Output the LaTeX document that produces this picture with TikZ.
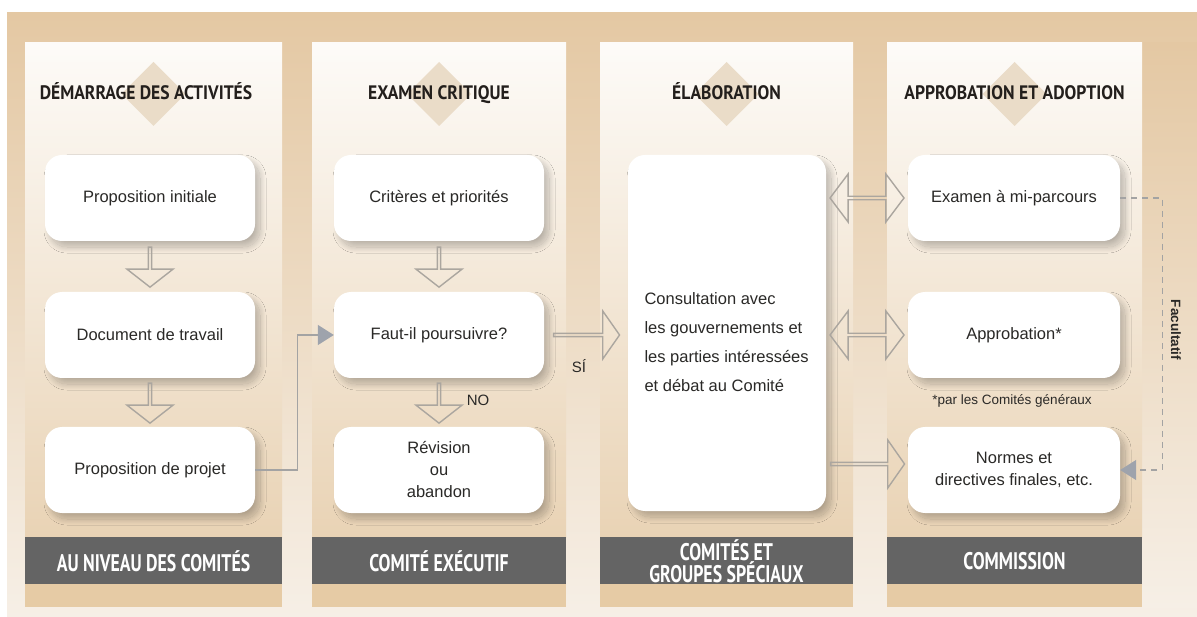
\documentclass[tikz,border=0pt]{standalone}
\usepackage{fontspec}
\setmainfont{Liberation Sans}
\newfontfamily\headfont[FakeStretch=0.9]{PT Sans Bold}
\newfontfamily\barfont[FakeStretch=0.74]{PT Sans Bold}
\usetikzlibrary{shapes.arrows,shadows.blur,calc,arrows.meta}

\definecolor{frametan}{HTML}{E4C8A3}
\definecolor{framecream}{HTML}{F6EFE6}
\definecolor{paneltop}{HTML}{FDFBF8}
\definecolor{panelmid}{HTML}{F5ECE0}
\definecolor{panelbot}{HTML}{E9D3B5}
\definecolor{panelfoot}{HTML}{E6CBA5}
\definecolor{barfill}{HTML}{646464}
\definecolor{diamfill}{HTML}{EADCC8}
\definecolor{outline}{HTML}{ABA69F}
\definecolor{tipgray}{HTML}{9EA3AC}
\definecolor{linegray}{HTML}{A3A3A3}
\definecolor{ink}{HTML}{2A2927}
\definecolor{headink}{HTML}{231F1C}

\begin{document}
\begin{tikzpicture}[x=1pt,y=-1pt,
  box/.style={fill=white, rounded corners=17pt, minimum width=210pt,
    minimum height=86pt, align=center, text=ink,
    font=\fontsize{16.5}{22}\selectfont,
    blur shadow={shadow xshift=5pt, shadow yshift=-6pt,
      shadow blur radius=6pt, shadow blur steps=24, shadow opacity=24}},
  header/.style={font=\headfont\fontsize{19.5}{22}\selectfont, text=headink, anchor=base},
  barlabel/.style={font=\barfont\fontsize{24}{20}\selectfont, text=white, align=center},
  note/.style={font=\fontsize{15}{18}\selectfont, text=ink},
  downarrow/.style={single arrow, draw=outline, line width=1.4pt,
    minimum height=40pt, minimum width=46pt, single arrow head extend=9pt,
    single arrow tip angle=104, inner sep=0pt, rotate=-90},
  rightarrow/.style={single arrow, draw=outline, line width=1.4pt,
    minimum height=66pt, minimum width=48pt, single arrow head extend=10pt,
    single arrow tip angle=110, inner sep=0pt},
  dblarrow/.style={double arrow, draw=outline, line width=1.4pt,
    minimum height=74pt, minimum width=48pt, double arrow head extend=9pt,
    double arrow tip angle=106, inner sep=0pt},
  link/.style={draw=linegray, line width=1.4pt,
    -{Triangle[length=16pt,width=20pt,color=tipgray]}},
  dashlink/.style={draw=linegray, line width=1.3pt, dash pattern=on 6pt off 5pt,
    -{Triangle[length=16pt,width=20pt,color=tipgray]}},
  diamond mark/.style={fill=diamfill}
]
\path[use as bounding box] (0,0) rectangle (1197,617);
\fill[white] (0,0) rectangle (1197,617);

% outer frame
\shade[top color=frametan, middle color=frametan!85!framecream, bottom color=framecream]
  (7,13) rectangle (1197,617);
\shade[top color=frametan, middle color=framecream!85!frametan, bottom color=framecream]
  (1142,43) rectangle (1197,607);

% the four panels with their footer bars
\foreach \l/\r in {25/282, 312/566, 600/853, 887/1142}{
  \shade[top color=paneltop, middle color=panelmid, bottom color=panelbot]
    (\l,43) rectangle (\r,537);
  \fill[barfill] (\l,537) rectangle (\r,584);
  \fill[panelfoot] (\l,584) rectangle (\r,607);
  \fill[diamond mark] ({(\l+\r)/2},62) -- ++(32,32) -- ++(-32,32) -- ++(-32,-32) -- cycle;
}

% headers
\node[header] (h1) at (146,100) {DÉMARRAGE DES ACTIVITÉS};
\node[header] (h2) at (439,100) {EXAMEN CRITIQUE};
\node[header] (h3) at (726.5,100) {ÉLABORATION};
\node[header] (h4) at (1014.5,100) {APPROBATION ET ADOPTION};

% footer labels
\node[barlabel] (f1) at (153.5,561) {AU NIVEAU DES COMITÉS};
\node[barlabel] (f2) at (439,561) {COMITÉ EXÉCUTIF};
\node[barlabel] (f3) at (726.5,561) {COMITÉS ET\\GROUPES SPÉCIAUX};
\node[barlabel] (f4) at (1014.5,561) {COMMISSION};

% column 1
\node[box] (a1) at (150,198) {Proposition initiale};
\node[box] (a2) at (150,335) {Document de travail};
\node[box] (a3) at (150,470) {Proposition de projet};

% column 2
\node[box] (b1) at (439,198) {Critères et priorités};
\node[box] (b2) at (439,335) {Faut-il poursuivre?};
\node[box] (b3) at (439,470) {Révision\\ou\\abandon};

% column 3
\node[box, minimum width=198pt, minimum height=356pt] (c1) at (727,333) {};
\node[anchor=west, align=left, text=ink, font=\fontsize{16.5}{29}\selectfont]
  (c1text) at (641,342) {Consultation avec\\les gouvernements et\\les parties intéressées\\et débat au Comité};

% column 4
\node[box, minimum width=212pt] (d1) at (1014,198) {Examen à mi-parcours};
\node[box, minimum width=212pt] (d2) at (1014,335) {Approbation*};
\node[box, minimum width=212pt] (d3) at (1014,470) {Normes et\\directives finales, etc.};
\node[font=\fontsize{13.5}{15}\selectfont, text=ink] (d2note) at (1012,401) {*par les Comités généraux};

% block arrows
\node[downarrow] (ar1) at ($(a1.south)!0.5!(a2.north)$) {};
\node[downarrow] (ar2) at ($(a2.south)!0.5!(a3.north)$) {};
\node[downarrow] (br1) at ($(b1.south)!0.5!(b2.north)$) {};
\node[downarrow] (br2) at ($(b2.south)!0.5!(b3.north)$) {};
\node[rightarrow] (si) at ($(b2.east)!0.5!(c1.west |- b2)$) {};
\node[dblarrow] (x1) at ($(c1.east |- d1)!0.5!(d1.west)$) {};
\node[dblarrow] (x2) at ($(c1.east |- d2)!0.5!(d2.west)$) {};
\node[rightarrow, minimum height=74pt] (x3) at ($(c1.east |- d3)!0.5!(d3.west) + (0,-6)$) {};

\node[note] (nolabel) at (478,400) {NO};
\node[note] (silabel) at (579,366) {SÍ};

% connectors
\draw[link] (a3.east) -- ++(42,0) |- (b2.west);
\draw[dashlink] (d1.east) -- ++(42,0) |- (d3.east);
\node[rotate=-90, font=\bfseries\fontsize{13.5}{15}\selectfont, text=ink] (fac) at (1176,330) {Facultatif};
\end{tikzpicture}
\end{document}
